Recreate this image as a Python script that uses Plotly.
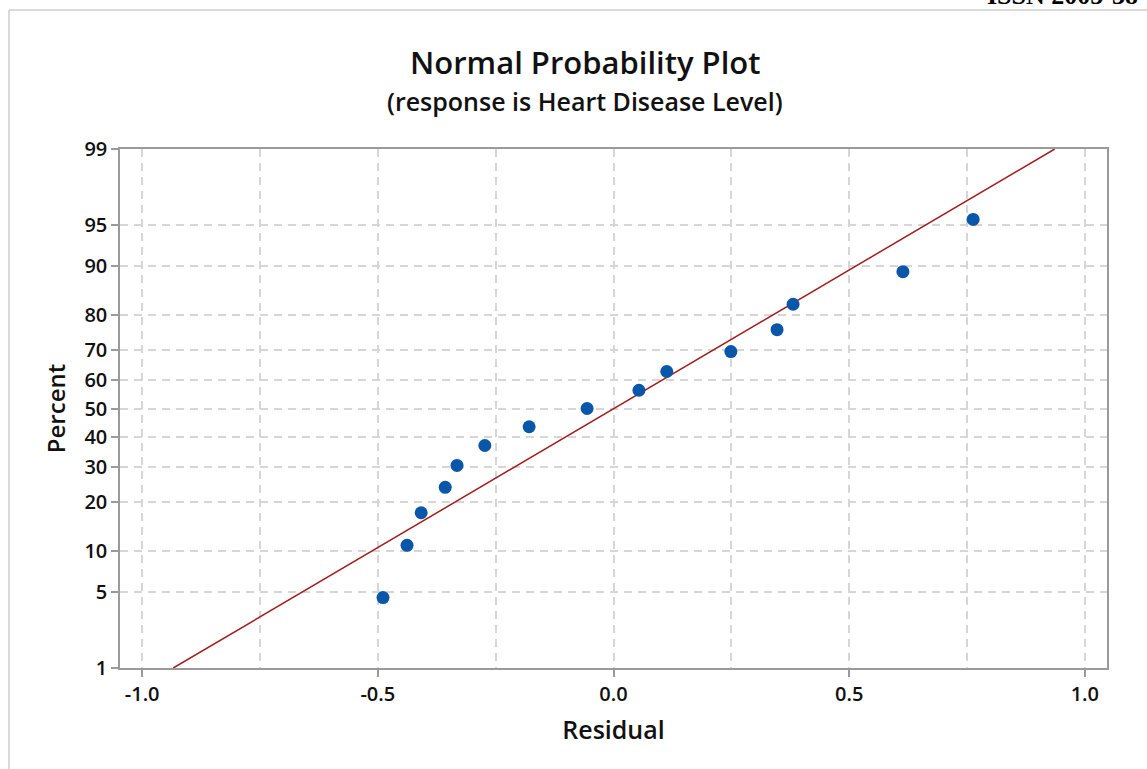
import plotly.graph_objects as go
from statistics import NormalDist

# ---- data ----
residuals = [-0.489, -0.438, -0.408, -0.357, -0.332, -0.273, -0.179, -0.056,
             0.054, 0.113, 0.249, 0.347, 0.381, 0.614, 0.763]
percents = [4.5, 11.0, 17.5, 24.0, 30.5, 37.0, 43.5, 50.0,
            56.5, 63.0, 69.5, 76.0, 82.5, 89.0, 95.5]
fit_x = [-0.934, 0.936]
fit_pct = [1, 99]
y_tick_labels = ["1", "5", "10", "20", "30", "40", "50", "60", "70", "80", "90", "95", "99"]
x_tick_vals = [-1.0, -0.5, 0.0, 0.5, 1.0]
x_tick_text = ["-1.0", "-0.5", "0.0", "0.5", "1.0"]

nd = NormalDist()
def probit(p):
    return nd.inv_cdf(float(p) / 100.0)

fig = go.Figure()
fig.add_trace(go.Scatter(
    x=fit_x, y=[probit(p) for p in fit_pct], mode="lines",
    line=dict(color="#a31c1c", width=1.5), hoverinfo="skip", showlegend=False))
fig.add_trace(go.Scatter(
    x=residuals, y=[probit(p) for p in percents], mode="markers",
    marker=dict(color="#0a56a8", size=13), showlegend=False))

grid = "#d6d6d6"
axcol = "#9a9a9a"
font_fam = "Open Sans, Noto Sans, sans-serif"

W, H = 1147, 769
L, T, PW, PH = 120, 149, 987, 519

def px(x):  # page pixel -> paper x
    return (x - L) / PW

def py(y):  # page pixel -> paper y
    return (T + PH - y) / PH

fig.update_layout(
    width=W, height=H,
    margin=dict(l=L, r=W - L - PW, t=T, b=H - T - PH),
    paper_bgcolor="white", plot_bgcolor="white",
    font=dict(family=font_fam, color="#111111"),
    xaxis=dict(
        range=[-1.047, 1.047], tickvals=x_tick_vals, ticktext=x_tick_text,
        showgrid=True, gridcolor=grid, griddash="8px,6px", gridwidth=1.5,
        minor=dict(dtick=0.25, tick0=0, showgrid=True, gridcolor=grid,
                   griddash="8px,6px", gridwidth=1.5, ticks=""),
        ticks="outside", ticklen=7, tickcolor=axcol, tickwidth=1.5,
        tickfont=dict(size=20, weight=600, color="#111111"),
        showline=True, linecolor=axcol, linewidth=1.5, mirror=True,
        zeroline=False,
        title=dict(text="Residual", font=dict(size=25, weight=600), standoff=16),
    ),
    yaxis=dict(
        range=[probit(1), probit(99)],
        tickvals=[probit(v) for v in y_tick_labels], ticktext=y_tick_labels,
        showgrid=True, gridcolor=grid, griddash="8px,6px", gridwidth=1.5,
        ticks="outside", ticklen=7, tickcolor=axcol, tickwidth=1.5,
        tickfont=dict(size=20, weight=600, color="#111111"),
        showline=True, linecolor=axcol, linewidth=1.5, mirror=True,
        zeroline=False,
        title=dict(text="Percent", font=dict(size=24, weight=600), standoff=12),
    ),
    annotations=[
        dict(text="Normal Probability Plot", xref="paper", yref="paper",
             x=px(585), y=py(62), xanchor="center", yanchor="middle",
             showarrow=False, font=dict(size=31, weight=600, color="#111111")),
        dict(text="(response is Heart Disease Level)", xref="paper", yref="paper",
             x=px(585), y=py(101), xanchor="center", yanchor="middle",
             showarrow=False, font=dict(size=25, weight=600, color="#111111")),
        dict(text="ISSN 2005-38", xref="paper", yref="paper",
             x=px(985), y=py(12), xanchor="left", yanchor="bottom",
             showarrow=False,
             font=dict(size=26, weight=700, family="Liberation Serif, serif", color="#000000")),
    ],
    shapes=[
        dict(type="line", xref="paper", yref="paper",
             x0=px(9), x1=px(1150), y0=py(10), y1=py(10),
             line=dict(color="#cfcfcf", width=1.5)),
        dict(type="line", xref="paper", yref="paper",
             x0=px(9), x1=px(9), y0=py(10), y1=py(775),
             line=dict(color="#cfcfcf", width=1.5)),
    ],
)

fig.write_html("out.html", config={"displayModeBar": False},
               post_script="document.body.style.margin='0';")
